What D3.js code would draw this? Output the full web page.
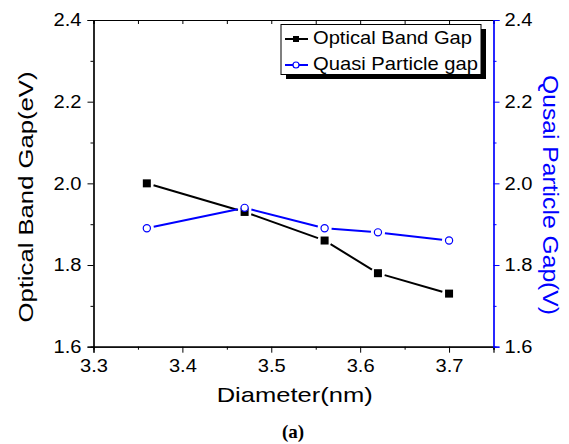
<!DOCTYPE html>
<html><head><meta charset="utf-8">
<script src="https://cdn.jsdelivr.net/npm/d3@7"></script>
<style>body{margin:0;background:#fff}svg{display:block}</style>
</head><body>
<svg id="c" width="569" height="444"></svg>
<script>
const diameters = [3.36, 3.47, 3.56, 3.62, 3.70];
const opticalGap = [2.00, 1.93, 1.86, 1.78, 1.73];
const quasiGap = [1.89, 1.94, 1.89, 1.88, 1.86];
const xTicks = [3.3, 3.4, 3.5, 3.6, 3.7];
const xMinor = [3.35, 3.45, 3.55, 3.65, 3.75];
const yTicks = [1.6, 1.8, 2.0, 2.2, 2.4];
const yMinor = [1.7, 1.9, 2.1, 2.3];
const seriesNames = ["Optical Band Gap", "Quasi Particle gap"];

const svg = d3.select("#c");
const L = 93.5, R = 493.5, T = 20, B = 346.7;
const x = d3.scaleLinear().domain([3.3, 3.75]).range([L, R]);
const y = d3.scaleLinear().domain([1.6, 2.4]).range([B, T]);
const y2 = d3.scaleLinear().domain([1.6, 2.4]).range([B, T]);
const font = "Arial, 'Liberation Sans', sans-serif";

// bottom axis
svg.append("g").attr("transform", `translate(0,${B})`)
  .call(d3.axisBottom(x).tickValues(xTicks).tickSize(6).tickPadding(7).tickFormat(d3.format(".1f")));
svg.append("g").attr("transform", `translate(0,${B})`)
  .call(d3.axisBottom(x).tickValues(xMinor).tickSize(3).tickFormat(""));
// top axis (inward ticks)
svg.append("g").attr("transform", `translate(0,${T})`)
  .call(d3.axisBottom(x).tickValues(xTicks.concat(xMinor)).tickSize(4).tickFormat(""));
// left axis
svg.append("g").attr("transform", `translate(${L},0)`)
  .call(d3.axisLeft(y).tickValues(yTicks).tickSize(6).tickPadding(6).tickFormat(d3.format(".1f")));
svg.append("g").attr("transform", `translate(${L},0)`)
  .call(d3.axisLeft(y).tickValues(yMinor).tickSize(3).tickFormat(""));
// right axis (blue)
svg.append("g").attr("class","blue").attr("transform", `translate(${R},0)`)
  .call(d3.axisRight(y2).tickValues(yTicks).tickSize(6).tickPadding(5).tickFormat(d3.format(".1f")));
svg.append("g").attr("class","blue").attr("transform", `translate(${R},0)`)
  .call(d3.axisRight(y2).tickValues(yMinor).tickSize(3).tickFormat(""));

svg.selectAll(".domain").attr("stroke", "#000").attr("stroke-width", 1.2);
svg.selectAll(".tick line").attr("stroke", "#000");
svg.selectAll("g.blue .domain, g.blue .tick line").attr("stroke", "#0000ff");
svg.selectAll(".tick text").attr("font-family", font).attr("font-size", 18).attr("fill", "#000")
  .attr("textLength", 28).attr("lengthAdjust", "spacingAndGlyphs");

// series
function drawSeries(vals, color, filled) {
  const pts = diameters.map((d, i) => [x(d), y(vals[i])]);
  const g = svg.append("g");
  for (let i = 0; i < pts.length - 1; i++) {
    const [x1, y1] = pts[i], [x2, y2_] = pts[i + 1];
    const dx = x2 - x1, dy = y2_ - y1, len = Math.hypot(dx, dy), gap = 7;
    g.append("line")
      .attr("x1", x1 + dx * gap / len).attr("y1", y1 + dy * gap / len)
      .attr("x2", x2 - dx * gap / len).attr("y2", y2_ - dy * gap / len)
      .attr("stroke", color).attr("stroke-width", 2);
  }
  pts.forEach(p => {
    if (filled) g.append("rect").attr("x", p[0] - 4).attr("y", p[1] - 4).attr("width", 8).attr("height", 8).attr("fill", color);
    else g.append("circle").attr("cx", p[0]).attr("cy", p[1]).attr("r", 3.6).attr("fill", "#fff").attr("stroke", color).attr("stroke-width", 1.2);
  });
}
drawSeries(opticalGap, "#000", true);
drawSeries(quasiGap, "#0000ff", false);

// legend
const lg = svg.append("g");
lg.append("rect").attr("x", 286).attr("y", 29).attr("width", 200).attr("height", 50).attr("fill", "#000");
lg.append("rect").attr("x", 281).attr("y", 24.5).attr("width", 200).attr("height", 50).attr("fill", "#fff").attr("stroke", "#000").attr("stroke-width", 1);
const legendColors = ["#000", "#0000ff"];
const legendLen = [159, 165];
seriesNames.forEach((n, i) => {
  const cy = 39 + i * 26;
  lg.append("line").attr("x1", 285).attr("x2", 308).attr("y1", cy).attr("y2", cy).attr("stroke", legendColors[i]).attr("stroke-width", 2);
  if (i === 0) lg.append("rect").attr("x", 293).attr("y", cy - 3).attr("width", 6).attr("height", 6).attr("fill", "#000");
  else lg.append("circle").attr("cx", 296).attr("cy", cy).attr("r", 3).attr("fill", "#fff").attr("stroke", "#0000ff").attr("stroke-width", 1.2);
  lg.append("text").attr("x", 313).attr("y", cy + 5).attr("font-family", font).attr("font-size", 19).attr("fill", "#000")
    .attr("textLength", legendLen[i]).attr("lengthAdjust", "spacingAndGlyphs").text(n);
});

// axis titles
svg.append("text").attr("x", 294.7).attr("y", 401.5).attr("text-anchor", "middle").attr("font-family", font).attr("font-size", 21)
  .attr("textLength", 156).attr("lengthAdjust", "spacingAndGlyphs").text("Diameter(nm)");
svg.append("text").attr("transform", "translate(33,197) rotate(-90)").attr("text-anchor", "middle").attr("font-family", font).attr("font-size", 21)
  .attr("textLength", 251).attr("lengthAdjust", "spacingAndGlyphs").text("Optical Band Gap(eV)");
svg.append("text").attr("transform", "translate(543,195) rotate(90)").attr("text-anchor", "middle").attr("font-family", font).attr("font-size", 22).attr("fill", "#0000ff")
  .attr("textLength", 240).attr("lengthAdjust", "spacingAndGlyphs").text("Qusai Particle Gap(V)");
svg.append("text").attr("x", 293).attr("y", 438).attr("text-anchor", "middle").attr("font-family", "'Liberation Serif', 'Times New Roman', serif").attr("font-weight", "bold").attr("font-size", 19).text("(a)");
</script>
</body></html>
